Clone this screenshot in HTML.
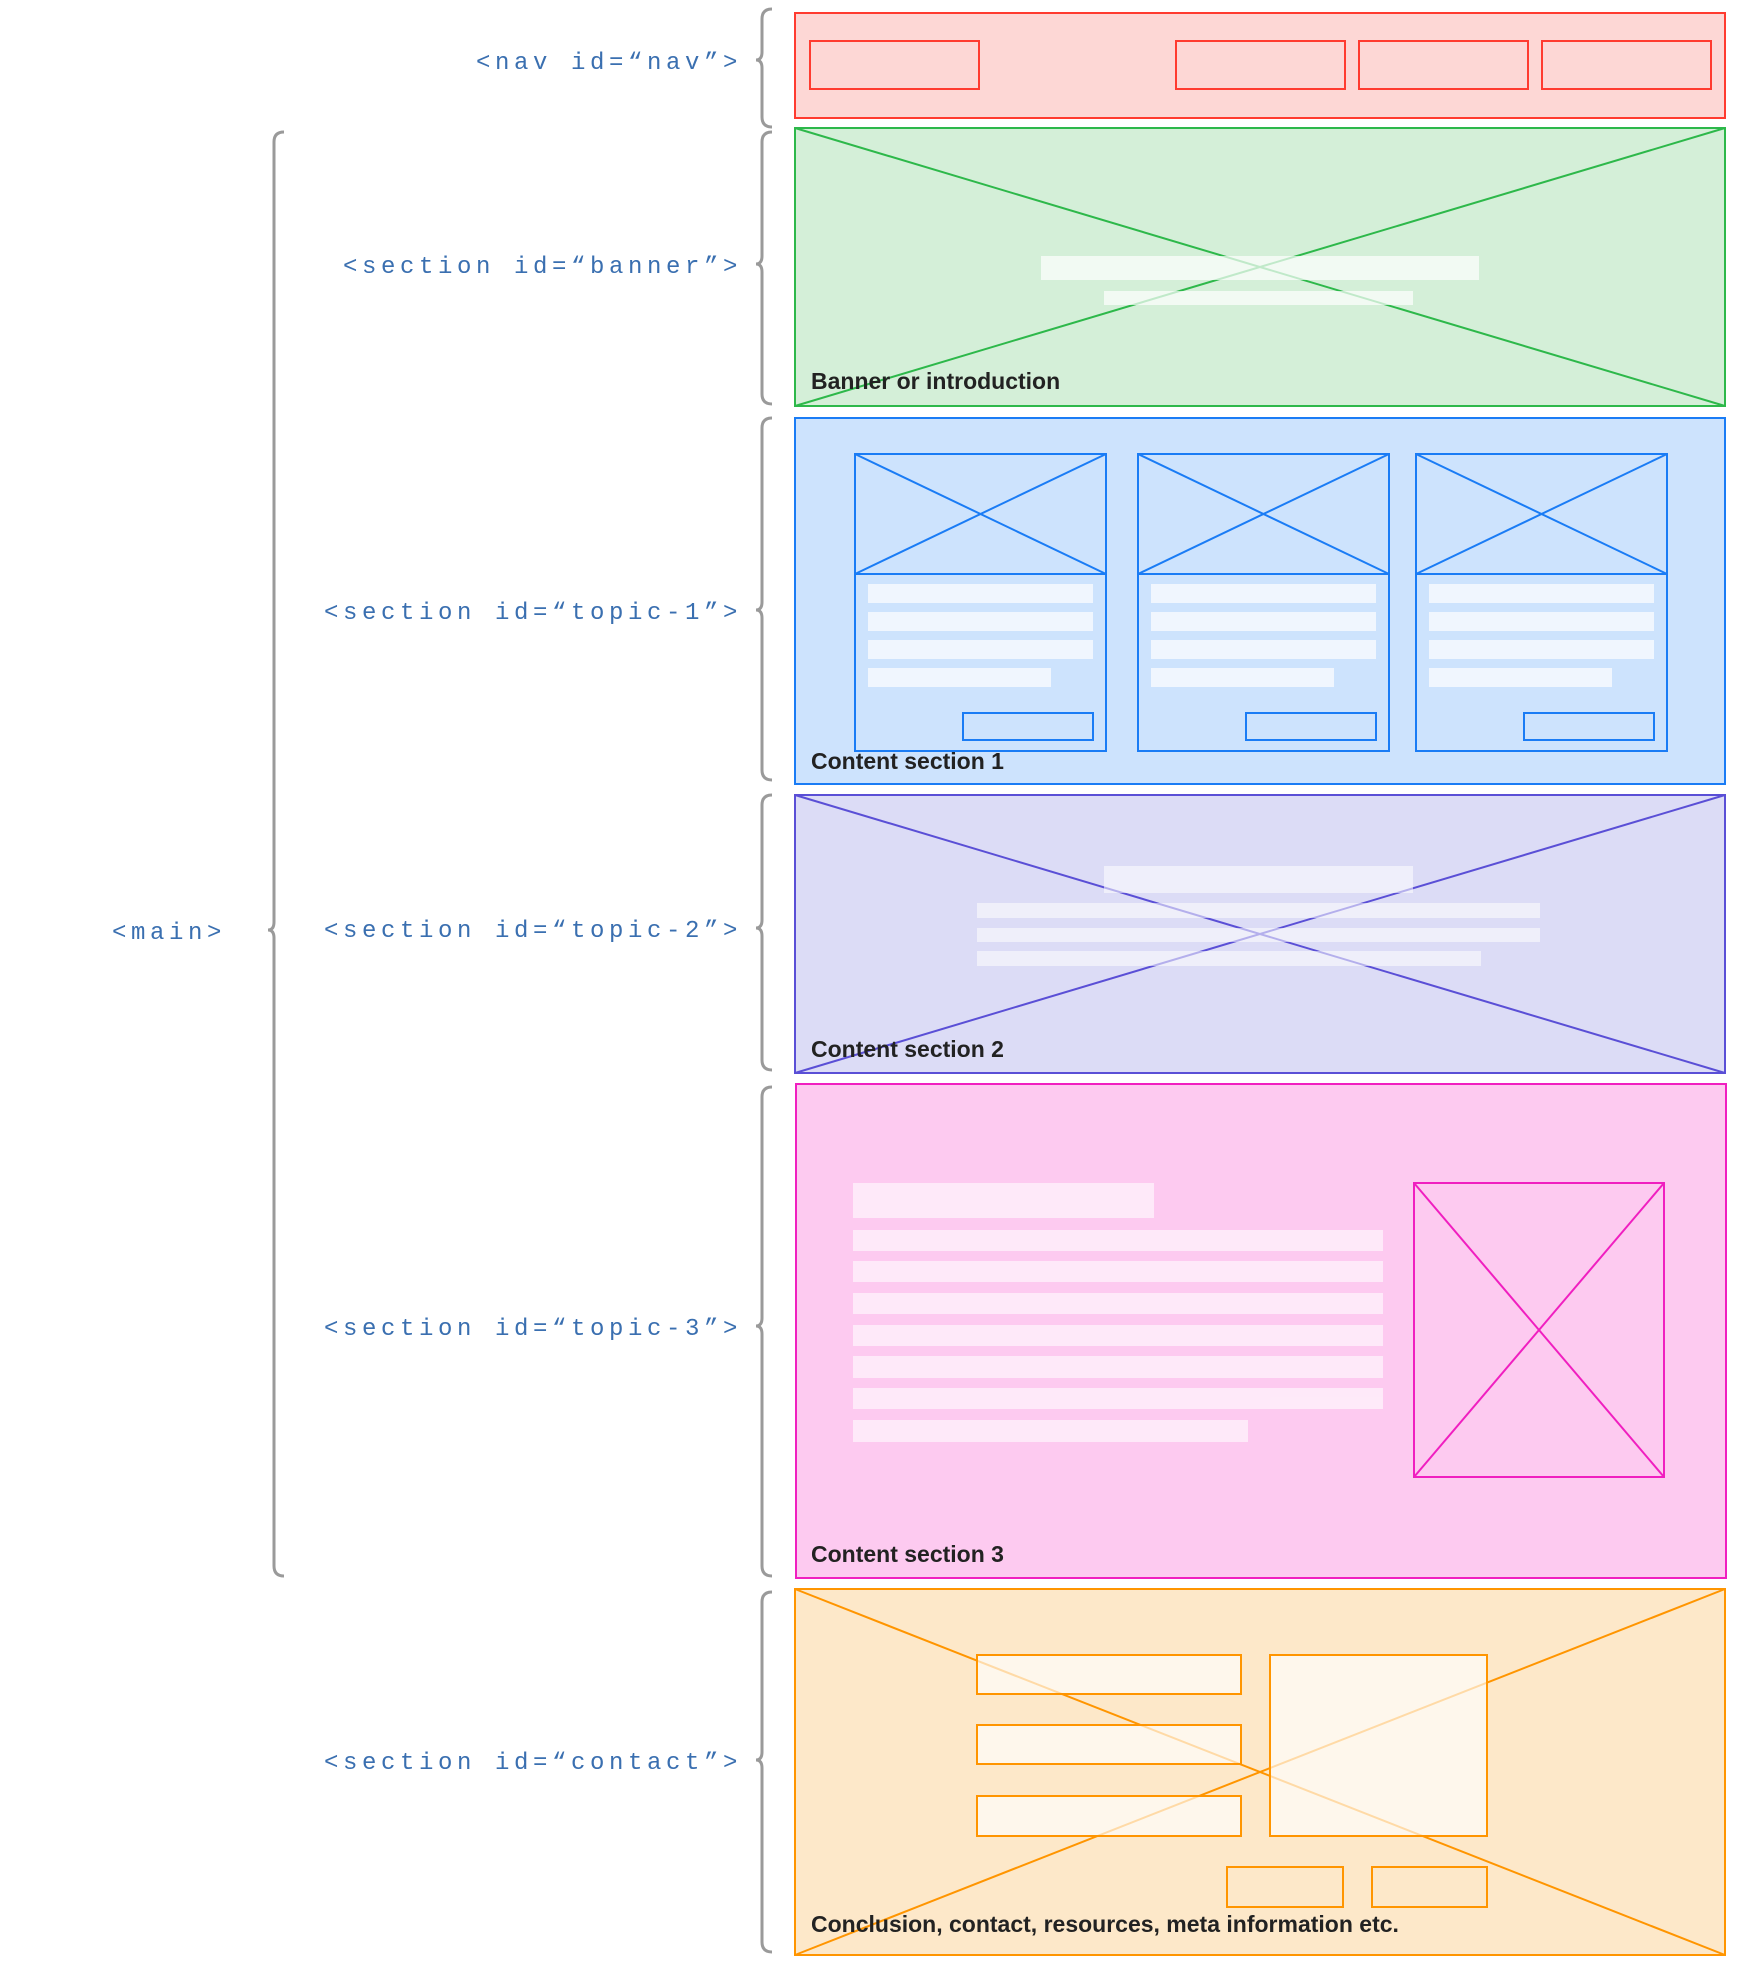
<!DOCTYPE html>
<html><head><meta charset="utf-8"><style>
html,body{margin:0;padding:0;background:#fff;}
svg{display:block;}
.mono{font-family:"Liberation Mono",monospace;font-size:24px;fill:#3a6fb0;letter-spacing:4.6px;}
.lbl{font-family:"Liberation Sans",sans-serif;font-weight:bold;font-size:23px;fill:#222;}
.br{fill:none;stroke:#9a9a9a;stroke-width:3;}
</style></head><body>
<svg width="1744" height="1975" viewBox="0 0 1744 1975" xmlns="http://www.w3.org/2000/svg">
<g class="br">
<path d="M772 9 Q762 9 762 19 L762 52 Q762 60 756 60 Q762 60 762 68 L762 117 Q762 127 772 127"/>
<path d="M772 132 Q762 132 762 142 L762 256 Q762 264 756 264 Q762 264 762 272 L762 394 Q762 404 772 404"/>
<path d="M772 418 Q762 418 762 428 L762 602 Q762 610 756 610 Q762 610 762 618 L762 770 Q762 780 772 780"/>
<path d="M772 795 Q762 795 762 805 L762 920 Q762 928 756 928 Q762 928 762 936 L762 1060 Q762 1070 772 1070"/>
<path d="M772 1087 Q762 1087 762 1097 L762 1318 Q762 1326 756 1326 Q762 1326 762 1334 L762 1566 Q762 1576 772 1576"/>
<path d="M772 1592 Q762 1592 762 1602 L762 1752 Q762 1760 756 1760 Q762 1760 762 1768 L762 1942 Q762 1952 772 1952"/>
<path d="M284 132 Q274 132 274 142 L274 922 Q274 930 268 930 Q274 930 274 938 L274 1566 Q274 1576 284 1576"/>
</g>
<g class="mono" text-anchor="end">
<text x="742" y="69">&lt;nav id=“nav”&gt;</text>
<text x="742" y="273">&lt;section id=“banner”&gt;</text>
<text x="742" y="619">&lt;section id=“topic-1”&gt;</text>
<text x="742" y="937">&lt;section id=“topic-2”&gt;</text>
<text x="742" y="1335">&lt;section id=“topic-3”&gt;</text>
<text x="742" y="1769">&lt;section id=“contact”&gt;</text>
<text x="226" y="939">&lt;main&gt;</text>
</g>

<rect x="795" y="13" width="930" height="105" fill="#fdd7d5" stroke="#ff3b30" stroke-width="2"/>
<g fill="none" stroke="#ff3b30" stroke-width="2">
<rect x="810" y="41" width="169" height="48"/>
<rect x="1176" y="41" width="169" height="48"/>
<rect x="1359" y="41" width="169" height="48"/>
<rect x="1542" y="41" width="169" height="48"/>
</g>

<rect x="795" y="128" width="930" height="278" fill="#d4efd8" stroke="#2db84a" stroke-width="2"/>
<g stroke="#2db84a" stroke-width="2"><line x1="795" y1="128" x2="1725" y2="406"/><line x1="795" y1="406" x2="1725" y2="128"/></g>
<g fill="#fff" opacity="0.7"><rect x="1041" y="256" width="438" height="24"/><rect x="1104" y="291" width="309" height="14"/></g>
<text class="lbl" x="811" y="389">Banner or introduction</text>

<rect x="795" y="418" width="930" height="366" fill="#cde3fd" stroke="#1a7cf5" stroke-width="2"/>
<g id="card">
<rect x="855" y="454" width="251" height="297" fill="none" stroke="#1a7cf5" stroke-width="2"/>
<line x1="855" y1="574" x2="1106" y2="574" stroke="#1a7cf5" stroke-width="2"/>
<line x1="855" y1="454" x2="1106" y2="574" stroke="#1a7cf5" stroke-width="2"/>
<line x1="855" y1="574" x2="1106" y2="454" stroke="#1a7cf5" stroke-width="2"/>
<g fill="#fff" opacity="0.7"><rect x="868" y="584" width="225" height="19"/><rect x="868" y="612" width="225" height="19"/><rect x="868" y="640" width="225" height="19"/><rect x="868" y="668" width="183" height="19"/></g>
<rect x="963" y="713" width="130" height="27" fill="none" stroke="#1a7cf5" stroke-width="2"/>
</g>
<use href="#card" x="283"/>
<use href="#card" x="561"/>
<text class="lbl" x="811" y="769">Content section 1</text>

<rect x="795" y="795" width="930" height="278" fill="#dcdcf6" stroke="#5a4fd6" stroke-width="2"/>
<g stroke="#5a4fd6" stroke-width="2"><line x1="795" y1="795" x2="1725" y2="1073"/><line x1="795" y1="1073" x2="1725" y2="795"/></g>
<g fill="#fff" opacity="0.55"><rect x="1104" y="866" width="309" height="27"/><rect x="977" y="903" width="563" height="15"/><rect x="977" y="928" width="563" height="14"/><rect x="977" y="951" width="504" height="15"/></g>
<text class="lbl" x="811" y="1057">Content section 2</text>

<rect x="796" y="1084" width="930" height="494" fill="#fdcaf0" stroke="#f01fc0" stroke-width="2"/>
<g fill="#fff" opacity="0.6"><rect x="853" y="1183" width="301" height="35"/>
<rect x="853" y="1230" width="530" height="21"/><rect x="853" y="1261" width="530" height="21"/><rect x="853" y="1293" width="530" height="21"/><rect x="853" y="1325" width="530" height="21"/><rect x="853" y="1356" width="530" height="22"/><rect x="853" y="1388" width="530" height="21"/><rect x="853" y="1420" width="395" height="22"/></g>
<g fill="none" stroke="#f01fc0" stroke-width="2"><rect x="1414" y="1183" width="250" height="294"/><line x1="1414" y1="1183" x2="1664" y2="1477"/><line x1="1414" y1="1477" x2="1664" y2="1183"/></g>
<text class="lbl" x="811" y="1562">Content section 3</text>

<rect x="795" y="1589" width="930" height="366" fill="#fde8c9" stroke="#ff9500" stroke-width="2"/>
<g stroke="#ff9500" stroke-width="2"><line x1="795" y1="1589" x2="1725" y2="1955"/><line x1="795" y1="1955" x2="1725" y2="1589"/></g>
<g fill="#fff" fill-opacity="0.65" stroke="#ff9500" stroke-width="2">
<rect x="977" y="1655" width="264" height="39"/><rect x="977" y="1725" width="264" height="39"/><rect x="977" y="1796" width="264" height="40"/>
<rect x="1270" y="1655" width="217" height="181"/>
</g>
<g fill="none" stroke="#ff9500" stroke-width="2"><rect x="1227" y="1867" width="116" height="40"/><rect x="1372" y="1867" width="115" height="40"/></g>
<text class="lbl" x="811" y="1932">Conclusion, contact, resources, meta information etc.</text>
</svg>
</body></html>
